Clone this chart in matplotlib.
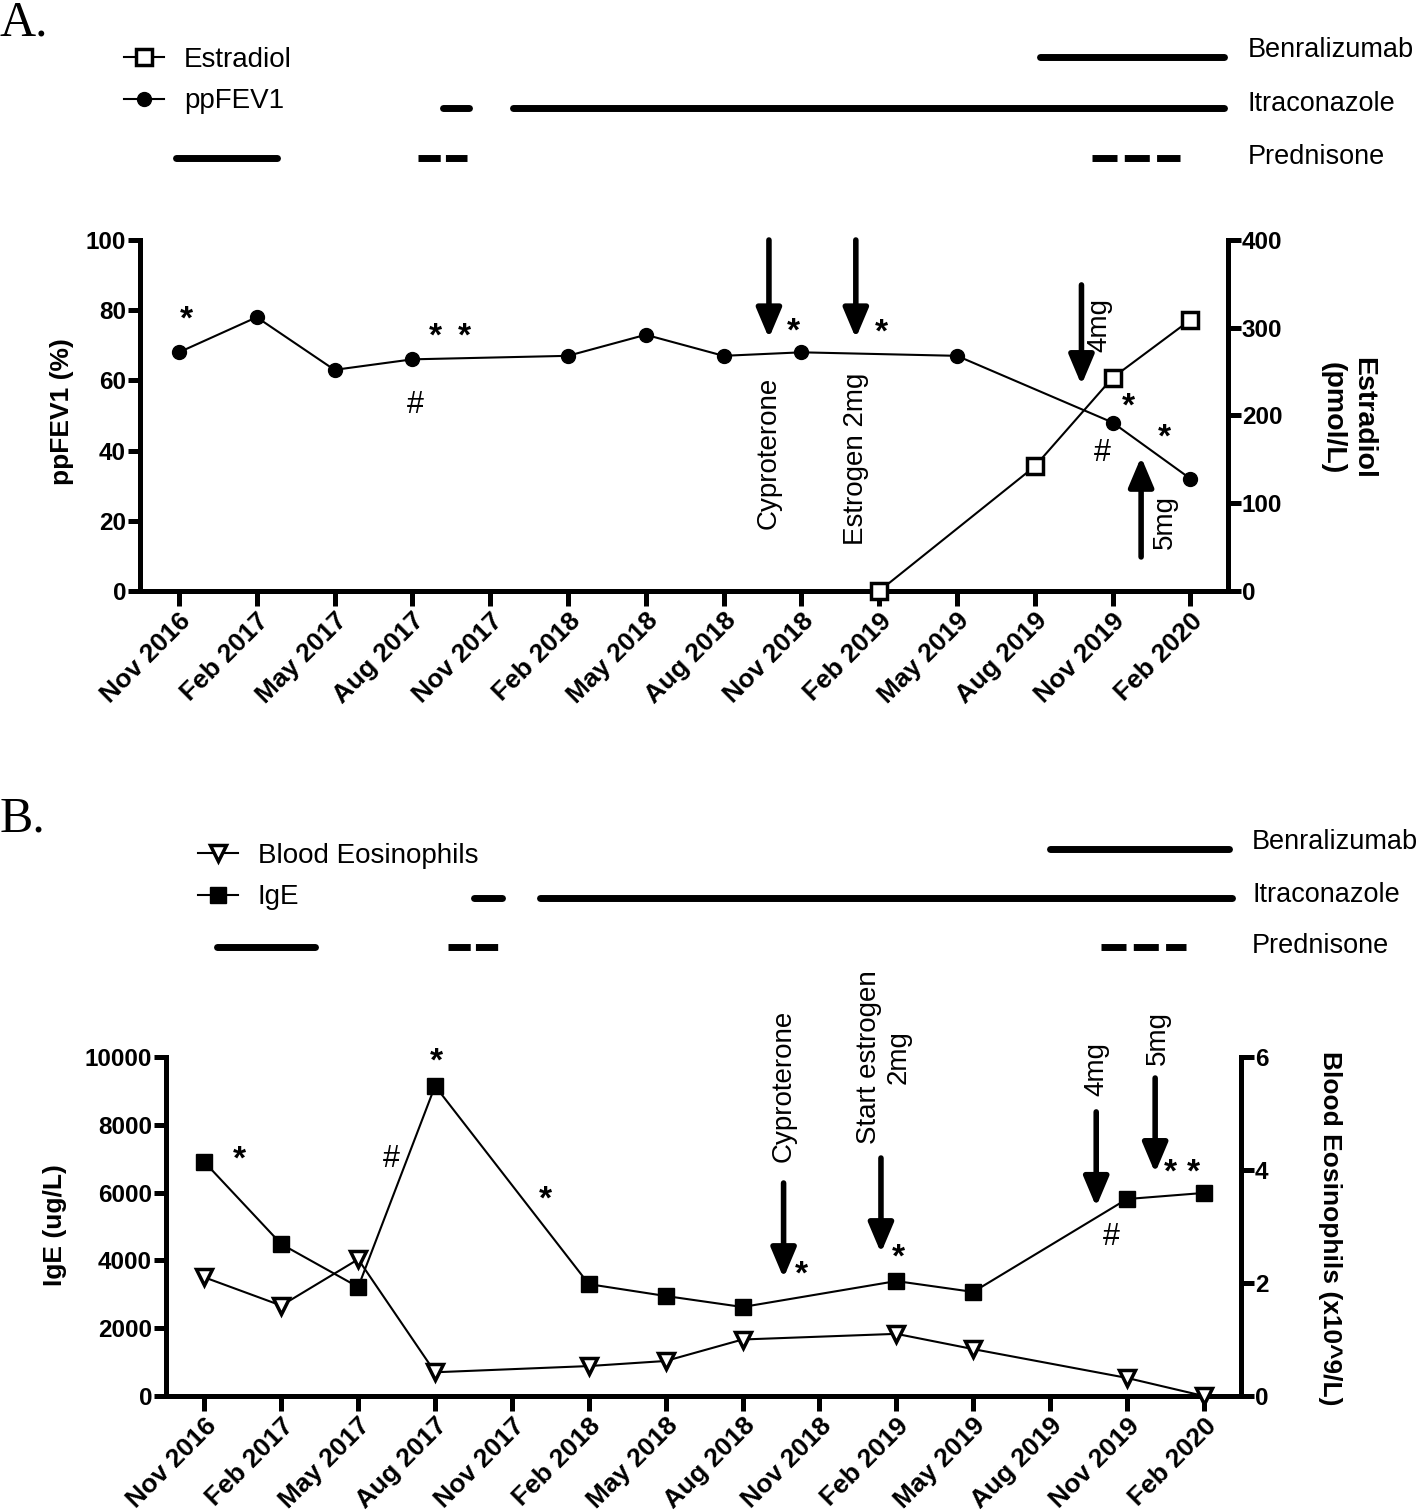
import matplotlib
matplotlib.use('Agg')
import matplotlib.pyplot as plt
import matplotlib.transforms as mtransforms

plt.rcParams['font.family'] = ['Liberation Sans', 'DejaVu Sans']

W, H, DPI = 1418, 1512, 100

# ---------------- data ----------------
tick_months = list(range(0, 40, 3))
tick_labels = ['Nov 2016', 'Feb 2017', 'May 2017', 'Aug 2017', 'Nov 2017', 'Feb 2018',
               'May 2018', 'Aug 2018', 'Nov 2018', 'Feb 2019', 'May 2019', 'Aug 2019',
               'Nov 2019', 'Feb 2020']

# Panel A
fev_months = [0, 3, 6, 9, 15, 18, 21, 24, 30, 36, 39]
fev_values = [68, 78, 63, 66, 67, 73, 67, 68, 67, 48, 32]
estradiol_months = [27, 33, 36, 39]
estradiol_values = [0, 142, 243, 309]

# Panel B
ige_months = [0, 3, 6, 9, 15, 18, 21, 27, 30, 36, 39]
ige_values = [6900, 4480, 3215, 9145, 3300, 2950, 2625, 3390, 3070, 5810, 5990]
eos_months = [0, 3, 6, 9, 15, 18, 21, 27, 30, 36, 39]
eos_values = [2.1, 1.6, 2.42, 0.42, 0.53, 0.62, 1.0, 1.1, 0.83, 0.32, 0.0]

# treatment periods (months since Nov 2016)
benra_A = [(33.2, 40.3)]
itra_A = [(10.2, 11.2), (12.9, 40.3)]
pred_solid_A = [(-0.1, 3.8)]
pred_dashed_A = [(9.2, 11.1), (35.2, 38.6)]

benra_B = [(33.0, 40.0)]
itra_B = [(10.5, 11.6), (13.1, 40.1)]
pred_solid_B = [(0.5, 4.3)]
pred_dashed_B = [(9.5, 11.5), (35.0, 38.3)]

treatment_names = ['Benralizumab', 'Itraconazole', 'Prednisone']

# arrows: (month, tail, tip, label, label_month, label_y)
arrows_A = [(22.75, 100, 72, 'Cyproterone', 22.75, 39.3),
            (26.1, 100, 72, 'Estrogen 2mg', 26.1, 37.6),
            (34.8, 87.2, 58.7, '4mg', 35.5, 75.8),
            (37.1, 9.7, 38.2, '5mg', 38.0, 19.6)]
stars_A = [(0.29, 77.2, '*'), (9.9, 72.4, '*'), (11.0, 72.4, '*'), (9.1, 53.0, '#'),
           (23.7, 73.8, '*'), (27.1, 73.5, '*'), (36.6, 52.4, '*'), (35.6, 39.3, '#'),
           (38.0, 43.6, '*')]

arrows_B = [(22.6, 6283, 3480, 'Cyproterone', 22.6, 9145),
            (26.4, 7020, 4218, 'Start estrogen\n2mg', 26.5, 10000),
            (34.8, 8380, 5580, '4mg', 34.8, 9650),
            (37.1, 9380, 6580, '5mg', 37.2, 10560)]
stars_B = [(1.36, 6960, '*'), (7.3, 6990, '#'), (9.04, 9850, '*'), (13.3, 5780, '*'),
           (23.3, 3570, '*'), (27.1, 4070, '*'), (35.4, 4690, '#'), (37.7, 6580, '*'),
           (38.6, 6580, '*')]

# ---------------- helpers ----------------
def rect(l, t, r, b):
    return [l / W, 1 - b / H, (r - l) / W, (b - t) / H]

SPW = 3.6
XLIM = (-1.5, 40.45)

fig = plt.figure(figsize=(W / DPI, H / DPI), dpi=DPI)


def style_axes(ax, ax2):
    for s in ['top', 'right']:
        ax.spines[s].set_visible(False)
    for s in ['left', 'bottom']:
        ax.spines[s].set_linewidth(SPW)
    for s in ['top', 'left', 'bottom']:
        ax2.spines[s].set_visible(False)
    ax2.spines['right'].set_linewidth(SPW)
    ax.set_xlim(*XLIM)
    ax.set_xticks(tick_months)
    ax.set_xticklabels(tick_labels, rotation=45, ha='right', va='top',
                       rotation_mode='anchor', fontsize=19, fontweight='bold')
    ax.tick_params(axis='x', length=11, width=SPW, pad=1.5)
    ax.tick_params(axis='y', length=9, width=SPW, pad=1, labelsize=17.5)
    ax2.tick_params(axis='y', length=9, width=SPW, pad=1, labelsize=17.5)
    for lab in ax.get_yticklabels() + ax2.get_yticklabels():
        lab.set_fontweight('bold')


def treatments(rect_px, benra, itra, psolid, pdashed, label_xfrac):
    tx = fig.add_axes(rect_px)
    tx.set_xlim(*XLIM)
    tx.set_ylim(0.5, 3.5)
    tx.axis('off')
    for a, b in benra:
        tx.plot([a, b], [3, 3], color='black', lw=5, solid_capstyle='round')
    for a, b in itra:
        tx.plot([a, b], [2, 2], color='black', lw=5, solid_capstyle='round')
    for a, b in psolid:
        tx.plot([a, b], [1, 1], color='black', lw=5, solid_capstyle='round')
    for (a, b), pattern in zip(pdashed, [(3.2, 0.75), (3.6, 1.05)]):
        tx.plot([a, b], [1, 1], color='black', lw=5, dashes=pattern,
                dash_capstyle='butt')
    trans = mtransforms.blended_transform_factory(tx.transAxes, tx.transData)
    for name, y in zip(treatment_names, [3.14, 2.06, 1.02]):
        tx.text(label_xfrac, y, name, transform=trans, ha='left', va='center',
                fontsize=19.5)
    return tx


def draw_arrows(ax, arrows, stars):
    for x, tail, tip, label, lx, ly in arrows:
        ax.annotate('', xy=(x, tip), xytext=(x, tail),
                    arrowprops=dict(arrowstyle='-|>,head_length=0.9,head_width=0.38',
                                    mutation_scale=20, lw=4, color='black',
                                    shrinkA=0, shrinkB=0), annotation_clip=False)
        ax.text(lx, ly, label, rotation=90, ha='center', va='center', fontsize=20,
                multialignment='center', clip_on=False)
    for x, y, s in stars:
        if s == '*':
            ax.text(x, y, s, ha='center', va='center', fontsize=24, fontweight='bold')
        else:
            ax.text(x, y, s, ha='center', va='center', fontsize=22)


# ================= Panel A =================
axA = fig.add_axes(rect(140, 240, 1228, 591))
axA2 = axA.twinx()
fev_line, = axA.plot(fev_months, fev_values, color='black', lw=1.5, marker='o',
                     markersize=10, markerfacecolor='black', label='ppFEV1')
est_line, = axA2.plot(estradiol_months, estradiol_values, color='black', lw=1.5,
                      marker='s', markersize=11, markerfacecolor='white',
                      markeredgewidth=2.5, label='Estradiol', clip_on=False)
axA.set_ylim(0, 100)
axA.set_yticks([0, 20, 40, 60, 80, 100])
axA2.set_ylim(0, 400)
axA2.set_yticks([0, 100, 200, 300, 400])
style_axes(axA, axA2)
draw_arrows(axA, arrows_A, stars_A)

fig.text(62 / W, 1 - 412 / H, 'ppFEV1 (%)', rotation=90, ha='center', va='center',
         fontsize=19, fontweight='bold')
fig.text(1348 / W, 1 - 418 / H, 'Estradiol\n(pmol/L)', rotation=270, ha='center',
         va='center', fontsize=20.5, fontweight='bold', multialignment='center')

treatments(rect(140, 32, 1228, 183), benra_A, itra_A, pred_solid_A, pred_dashed_A,
           (1248 - 140) / 1088)

fig.legend(handles=[est_line, fev_line], labels=['Estradiol', 'ppFEV1'],
           loc='upper left', bbox_to_anchor=(124 / W, 1 - 47 / H), frameon=False,
           fontsize=20, handlelength=1.45, handletextpad=0.7, labelspacing=0.55,
           borderaxespad=0, borderpad=0)

fig.text(0, 1 - 0 / H, 'A.', family='Liberation Serif', fontsize=36, ha='left', va='top')

# ================= Panel B =================
axB = fig.add_axes(rect(166, 1057, 1241, 1396))
axB2 = axB.twinx()
ige_line, = axB.plot(ige_months, ige_values, color='black', lw=1.5, marker='s',
                     markersize=11, markerfacecolor='black', label='IgE')
eos_line, = axB2.plot(eos_months, eos_values, color='black', lw=1.5, marker='v',
                      markersize=12, markerfacecolor='white', markeredgewidth=2.5,
                      label='Blood Eosinophils', clip_on=False)
axB.set_ylim(0, 10000)
axB.set_yticks([0, 2000, 4000, 6000, 8000, 10000])
axB2.set_ylim(0, 6)
axB2.set_yticks([0, 2, 4, 6])
style_axes(axB, axB2)
draw_arrows(axB, arrows_B, stars_B)

fig.text(55 / W, 1 - 1225 / H, 'IgE (ug/L)', rotation=90, ha='center', va='center',
         fontsize=19, fontweight='bold')
fig.text(1330 / W, 1 - 1228 / H, 'Blood Eosinophils (x10^9/L)', rotation=270,
         ha='center', va='center', fontsize=19, fontweight='bold')

treatments(rect(166, 824, 1241, 972), benra_B, itra_B, pred_solid_B, pred_dashed_B,
           (1252 - 166) / 1075)

fig.legend(handles=[eos_line, ige_line], labels=['Blood Eosinophils', 'IgE'],
           loc='upper left', bbox_to_anchor=(198 / W, 1 - 843 / H), frameon=False,
           fontsize=20, handlelength=1.45, handletextpad=0.7, labelspacing=0.55,
           borderaxespad=0, borderpad=0)

fig.text(0, 1 - 796 / H, 'B.', family='Liberation Serif', fontsize=36, ha='left', va='top')

fig.savefig('out.png', dpi=DPI)
